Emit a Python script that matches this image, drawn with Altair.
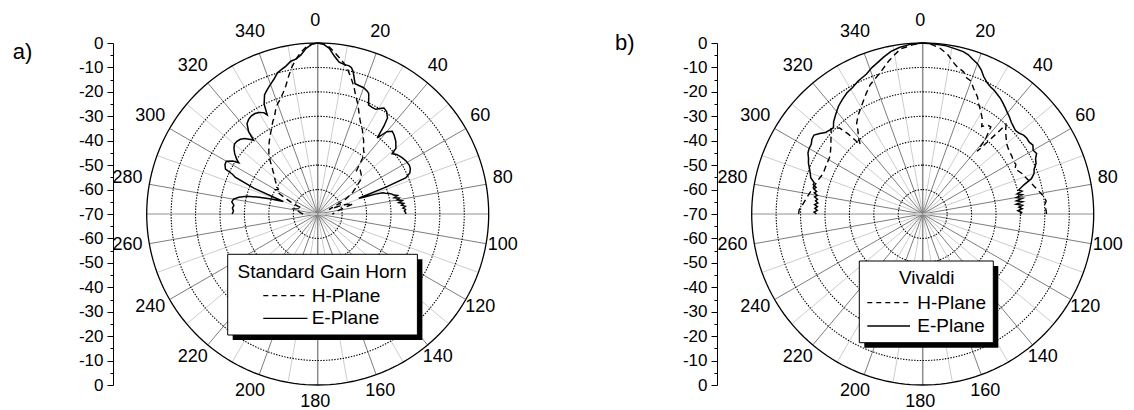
import altair as alt
import pandas as pd

# ---------------------------------------------------------------
# Measured far-field patterns: angle (deg, negative = 270..360) and
# normalised gain (dB).  Panel a) standard gain horn, panel b) Vivaldi.
# ---------------------------------------------------------------
HORN_E_ANG = [-90, -88, -86, -84, -82, -80, -78, -76, -74, -72,
              -70, -68, -66, -65, -64, -62, -60, -58, -57, -56,
              -54, -52, -50, -48, -46, -44, -42, -41, -40, -38,
              -36, -34, -32, -30, -28, -27, -26, -24, -22, -20,
              -18, -16, -14, -12, -10, -8, -6, -4, -2, 0,
              2, 4, 6, 8, 10, 12, 13, 14, 16, 18,
              20, 22, 23, 25, 27, 29, 31, 32, 34, 36,
              37, 38, 40, 42, 44, 47, 50, 51, 53, 56,
              59, 62, 64, 66, 67.7, 68.5, 69, 70, 71, 72,
              73, 74, 75, 76, 77, 78, 79, 80, 81, 82,
              83, 84, 85, 86, 87, 88, 89, 90]
HORN_E_DB = [-35, -35.5, -35, -35.5, -34.5, -35, -37, -40, -45, -50,
             -55, -42, -33, -31.5, -28, -27, -26.8, -29, -31.5, -30,
             -28, -26.5, -25.5, -25.5, -26, -27, -29, -30, -26, -23,
             -22, -21.5, -21.5, -22, -23, -24.5, -20, -16.5, -15, -13.5,
             -12, -10, -9, -8, -6.5, -6, -4.5, -2, -0.5, 0,
             -0.5, -2, -5, -7.2, -7.8, -8, -8.5, -10, -14.5, -14.8,
             -15, -15.8, -16.5, -20.7, -21, -21, -19.5, -18.8, -19.5, -21.4,
             -25, -30.4, -26, -24.4, -25, -26.3, -28.2, -30.8, -29.5, -28.5,
             -27.8, -27.5, -27.8, -28.7, -31.1, -40, -52, -50, -45, -42,
             -41, -39.5, -38.5, -38, -36.5, -38, -36, -37, -35, -36.5,
             -34.5, -35.5, -34, -35, -34, -34.5, -34, -34]

HORN_H_ANG = [-90, -86, -82, -78, -74, -70, -68, -66, -64, -62,
              -60, -58, -56, -54, -52, -50, -48, -46, -44, -42,
              -40, -38, -36, -34, -32, -30, -28, -26, -24, -22,
              -20, -18, -16, -14, -12, -10, -8, -6, -4, -2,
              0, 2, 4, 6, 8, 10, 12, 14, 16, 18,
              20, 22, 24, 26, 28, 30, 32, 34, 36, 38,
              40, 42, 44, 46, 48, 50, 52, 54, 56, 58,
              60, 62, 64, 66, 68, 70, 72, 74, 78, 82,
              86, 90]
HORN_H_DB = [-64, -63, -62, -60, -62, -63, -61, -58, -55, -52,
             -50, -51, -50, -49, -48, -47, -46, -44.5, -43, -41,
             -39, -37.5, -36, -34.5, -33, -31.5, -30, -28, -26.5, -24,
             -22, -20.5, -18.5, -16, -12.5, -9, -6, -3.5, -1.5, -0.3,
             0, -0.3, -1.5, -3.5, -5.5, -7.5, -10, -13, -16, -19.5,
             -22, -25, -27.5, -29.5, -31, -33, -34.5, -36.5, -38, -39,
             -43, -46.5, -45, -45.5, -46, -46.5, -48, -50, -51.5, -53,
             -55, -57, -60, -63, -65, -60, -57, -55, -60, -62,
             -63, -64]

VIV_E_ANG = [-90, -89, -88, -87, -86, -85, -84, -83, -82, -81,
             -80, -79, -78, -77, -76, -75, -74, -72, -70, -68,
             -66, -64, -62, -60, -58, -56, -54, -52, -50, -48,
             -46, -44, -41, -38, -35, -32, -29, -26, -22, -19,
             -16, -14, -11, -8, -4, 0, 4, 8, 12, 14,
             16, 18, 20, 22, 24, 26, 28, 30, 32, 34,
             36, 38, 40, 42, 44, 46, 48, 50, 52, 54,
             56, 58, 60, 62, 64, 66, 68, 70, 72, 74,
             76, 77, 78, 79, 80, 81, 82, 83, 84, 85,
             86, 87, 88, 89, 90]
VIV_E_DB = [-26.5, -25.5, -26.8, -25.8, -26.8, -25.6, -26.8, -25.8, -26.5, -25.2,
            -26.2, -24.8, -25.6, -24.2, -25, -23.6, -23.8, -21.8, -21, -20,
            -18.8, -18, -16.8, -16.3, -16.2, -15.3, -15, -16.5, -18.1, -18.7,
            -19.2, -17.5, -15.8, -14, -12.7, -11.5, -10.8, -9.5, -8.3, -6.5,
            -5, -3.8, -2.2, -1.2, -0.3, 0, -0.2, -0.5, -1.2, -1.5,
            -2.2, -3.5, -4.5, -6.2, -8.5, -10, -11, -11.5, -12.3, -13,
            -14, -15, -16, -16.8, -17.8, -18.4, -18.9, -18.5, -17.6, -17.3,
            -17.4, -16.8, -17.8, -17.2, -18.6, -19.2, -20.8, -21.5, -23.2, -27,
            -29.5, -28.3, -30.5, -28.5, -31, -28.6, -31.2, -28.8, -31.5, -29,
            -30.5, -29.2, -31, -29.5, -30]

VIV_H_ANG = [-90, -88, -86, -83, -80, -76, -72, -68, -64, -60,
             -58, -54, -50, -47, -44, -43, -42, -40, -38, -36,
             -33, -30, -28, -25, -22, -20, -16.5, -12.7, -10, -7.6,
             -3, 0, 3, 6, 9, 11, 13, 16, 18, 20,
             22, 25, 27, 29, 30, 32, 34, 36, 38, 40,
             41, 42, 43, 45, 48, 51, 54, 57, 60, 62,
             64, 66, 68, 70, 73, 76, 79, 82, 84, 86,
             88, 90]
VIV_H_DB = [-19.2, -19.4, -20.5, -21.7, -22.8, -24, -25, -26, -25.8, -25.5,
            -25.3, -23.5, -21, -18.7, -21, -25, -31.8, -29, -27, -24,
            -21.6, -19.5, -18, -15.4, -12.8, -11.7, -9.4, -6, -3.8, -1.8,
            -0.5, 0, -0.5, -1.8, -4, -6.3, -8, -9.4, -11.5, -12.1,
            -14.5, -17, -19.5, -21.3, -22.2, -24, -26.8, -25, -24.7, -30,
            -36, -30, -20, -22, -24, -25.5, -26.2, -26.5, -27, -26.8,
            -28, -27, -26, -25.5, -24.2, -23, -21.5, -19.8, -19.2, -20,
            -19.5, -19.3]

PANELS = ["a", "b"]
PANEL_LABELS = ["a)", "b)"]
LEGEND_TITLES = ["Standard Gain Horn", "Vivaldi"]
SERIES = ["H-Plane", "E-Plane"]
RING_DB = [-60, -50, -40, -30, -20, -10]
ANGLE_TICKS = list(range(0, 360, 20))
SPOKE_ANGLES = list(range(0, 360, 10))
AXIS_VALUES = list(range(-70, 71, 5))

# ---------------------------------------------------------------
# Layout: one plot area spanning the page; 1 dB = PX pixels.
# ---------------------------------------------------------------
W, H_PLOT = 1134, 342
PAD_TOP, PAD_BOTTOM = 43, 25
PX = H_PLOT / 140.0
CENTER_PX = {"a": 317.7, "b": 922.7}
SHIFT = (CENTER_PX["b"] - CENTER_PX["a"]) / PX
FONT = "Liberation Sans"


def u(p):
    return p / PX


R_LABEL = u(190.5)
LABEL_NUDGE = u(2.5)   # angle labels sit slightly up and to the left

SHIFT_EXPR = f"(datum.panel == 'b' ? {SHIFT} : 0)"

XS = alt.Scale(domain=[-u(CENTER_PX["a"]), u(W - CENTER_PX["a"])], nice=False, zero=False)
YS = alt.Scale(domain=[-70, 70], nice=False, zero=False)


def X(f):
    return alt.X(f, type="quantitative", scale=XS, axis=None)


def Y(f):
    return alt.Y(f, type="quantitative", scale=YS, axis=None)


# ---- pattern curves ----
def curve(panel, series, angs, dbs):
    return pd.DataFrame({"panel": panel, "series": series,
                         "i": list(range(len(angs))), "ang": angs, "db": dbs})


curves = pd.concat([
    curve("a", "E", HORN_E_ANG, HORN_E_DB),
    curve("a", "H", HORN_H_ANG, HORN_H_DB),
    curve("b", "E", VIV_E_ANG, VIV_E_DB),
    curve("b", "H", VIV_H_ANG, VIV_H_DB),
], ignore_index=True)

curve_base = alt.Chart(curves).transform_calculate(
    px=f"(datum.db + 70) * sin(datum.ang * PI / 180) + {SHIFT_EXPR}",
    py="(datum.db + 70) * cos(datum.ang * PI / 180)",
).encode(x=X("px"), y=Y("py"), detail="panel:N", order=alt.Order("i:Q"))

e_lines = curve_base.transform_filter("datum.series == 'E'").mark_line(
    color="black", strokeWidth=1.5)
h_lines = curve_base.transform_filter("datum.series == 'H'").mark_line(
    color="black", strokeWidth=1.4, strokeDash=[6, 4])

# ---- polar grid: spokes ----
spokes = pd.DataFrame([(p, a) for p in PANELS for a in SPOKE_ANGLES], columns=["panel", "ang"])
spoke_base = alt.Chart(spokes).transform_calculate(
    x0=SHIFT_EXPR,
    y0="0",
    x1=f"70 * sin(datum.ang * PI / 180) + {SHIFT_EXPR}",
    y1="70 * cos(datum.ang * PI / 180)",
    kind="datum.ang % 180 == 0 ? 'vert' : (datum.ang % 90 == 0 ? 'horz' : "
         "(datum.ang % 20 == 0 ? 'major' : 'minor'))",
).encode(x=X("x0"), y=Y("y0"), x2="x1:Q", y2="y1:Q")

spoke_minor = spoke_base.transform_filter("datum.kind == 'minor'").mark_rule(
    color="#c6c6c6", strokeWidth=0.9)
spoke_major = spoke_base.transform_filter("datum.kind == 'major'").mark_rule(
    color="#6e6e6e", strokeWidth=0.9)
spoke_horz = spoke_base.transform_filter("datum.kind == 'horz'").mark_rule(
    color="#c8c8c8", strokeWidth=2)
spoke_vert = spoke_base.transform_filter("datum.kind == 'vert'").mark_rule(
    color="#8c8c8c", strokeWidth=1.5)

# ---- polar grid: rings ----
ring_rows = [(p, d, a) for p in PANELS for d in RING_DB + [0] for a in range(0, 361, 2)]
rings = pd.DataFrame(ring_rows, columns=["panel", "ring", "ang"])
ring_base = alt.Chart(rings).transform_calculate(
    px=f"(datum.ring + 70) * sin(datum.ang * PI / 180) + {SHIFT_EXPR}",
    py="(datum.ring + 70) * cos(datum.ang * PI / 180)",
    key="datum.panel + '_' + datum.ring",
).encode(x=X("px"), y=Y("py"), detail="key:N", order=alt.Order("ang:Q"))

ring_dotted = ring_base.transform_filter("datum.ring < 0").mark_line(
    color="black", strokeWidth=1.1, strokeDash=[1.4, 1.4])
ring_outer = ring_base.transform_filter("datum.ring == 0").mark_line(
    color="black", strokeWidth=1.3)

# ---- angle labels ----
alabels = pd.DataFrame([(p, a) for p in PANELS for a in ANGLE_TICKS], columns=["panel", "ang"])
angle_text = alt.Chart(alabels).transform_calculate(
    lx=f"{R_LABEL} * sin(datum.ang * PI / 180) + {SHIFT_EXPR} - {LABEL_NUDGE}",
    ly=f"{R_LABEL} * cos(datum.ang * PI / 180) + {LABEL_NUDGE}",
    txt="'' + datum.ang",
).mark_text(font=FONT, fontSize=18, color="black", align="center", baseline="middle").encode(
    x=X("lx"), y=Y("ly"), text="txt:N")

# ---- legends (pixel offsets relative to each panel centre, y downward) ----
LEGEND_PX = {
    "a": dict(box=(-90.0, 99.7, 40.3, 121.0), title=(4.3, 57.7),
              h=(-6.0, 81.7), e=(-6.0, 104.3), sample=(-54.4, -10.2)),
    "b": dict(box=(-63.4, 70.6, 47.0, 128.7), title=(4.0, 64.3),
              h=(-5.4, 88.7), e=(-5.4, 112.0), sample=(-55.4, -12.7)),
}
SHADOW_PX = 5

box_rows, title_rows, item_rows = [], [], []
for p, title in zip(PANELS, LEGEND_TITLES):
    L = LEGEND_PX[p]
    sh = SHIFT if p == "b" else 0
    x1, x2, y1, y2 = L["box"]
    box_rows.append(dict(panel=p, x1=sh + u(x1), x2=sh + u(x2), y1=-u(y1), y2=-u(y2),
                         sx1=sh + u(x1 + SHADOW_PX), sx2=sh + u(x2 + SHADOW_PX),
                         sy1=-u(y1 + SHADOW_PX), sy2=-u(y2 + SHADOW_PX)))
    title_rows.append(dict(panel=p, tx=sh + u(L["title"][0]), ty=-u(L["title"][1]), txt=title))
    for s, key in zip(SERIES, ["h", "e"]):
        item_rows.append(dict(panel=p, series=s, tx=sh + u(L[key][0]), ty=-u(L[key][1]),
                              sx1=sh + u(L["sample"][0]), sx2=sh + u(L["sample"][1])))

boxes = pd.DataFrame(box_rows)
titles = pd.DataFrame(title_rows)
items = pd.DataFrame(item_rows)

legend_shadow = alt.Chart(boxes).mark_rect(color="black").encode(
    x=X("sx1"), x2="sx2:Q", y=Y("sy1"), y2="sy2:Q")
legend_box = alt.Chart(boxes).mark_rect(fill="white", stroke="black", strokeWidth=1).encode(
    x=X("x1"), x2="x2:Q", y=Y("y1"), y2="y2:Q")
legend_title = alt.Chart(titles).mark_text(
    font=FONT, fontSize=19, color="black", align="center", baseline="middle").encode(
    x=X("tx"), y=Y("ty"), text="txt:N")
legend_item_text = alt.Chart(items).mark_text(
    font=FONT, fontSize=19, color="black", align="left", baseline="middle").encode(
    x=X("tx"), y=Y("ty"), text="series:N")
legend_sample_h = alt.Chart(items).transform_filter("datum.series == 'H-Plane'").mark_rule(
    color="black", strokeWidth=1.3, strokeDash=[5, 4]).encode(
    x=X("sx1"), x2="sx2:Q", y=Y("ty"))
legend_sample_e = alt.Chart(items).transform_filter("datum.series == 'E-Plane'").mark_rule(
    color="black", strokeWidth=1.3).encode(
    x=X("sx1"), x2="sx2:Q", y=Y("ty"))

# ---- panel letters ----
PANEL_LABEL_PX = {"a": (-295.2, -162.3), "b": (-298.0, -171.0)}
plabels = pd.DataFrame([
    dict(panel=p, lab=lab,
         lx=(SHIFT if p == "b" else 0) + u(PANEL_LABEL_PX[p][0]),
         ly=-u(PANEL_LABEL_PX[p][1]))
    for p, lab in zip(PANELS, PANEL_LABELS)
])
panel_text = alt.Chart(plabels).mark_text(
    font=FONT, fontSize=22, color="black", align="center", baseline="middle").encode(
    x=X("lx"), y=Y("ly"), text="lab:N")

drawing = alt.layer(
    spoke_minor, spoke_major, spoke_horz, spoke_vert,
    ring_dotted, ring_outer,
    h_lines, e_lines,
    legend_shadow, legend_box, legend_title, legend_item_text,
    legend_sample_h, legend_sample_e,
    angle_text, panel_text,
)

# ---- radial dB axes on the left of each panel ----
axis_df = pd.DataFrame({"v": AXIS_VALUES})
LABEL_EXPR = ("abs(datum.value) % 10 != 0 ? '' : "
              "(abs(datum.value) == 70 ? '0' : '' + (abs(datum.value) - 70))")


def radial_axis(x_px):
    return alt.Chart(axis_df).mark_tick(opacity=0).encode(
        y=alt.Y("v:Q", scale=YS, axis=alt.Axis(
            orient="left", offset=-x_px, values=AXIS_VALUES, labelExpr=LABEL_EXPR,
            tickSize={"condition": {"test": "abs(datum.value) % 10 == 0", "value": 6}, "value": 3},
            grid=False, title=None, domainColor="black", domainWidth=1,
            tickColor="black", tickWidth=1, labelColor="black", labelFont=FONT,
            labelFontSize=17, labelPadding=4, labelBound=False, labelOverlap=False,
            labelFlush=False)))


chart = alt.layer(drawing, radial_axis(113), radial_axis(717)).resolve_scale(
    y="independent"
).properties(
    width=W, height=H_PLOT,
    autosize=alt.AutoSizeParams(type="none"),
    padding={"left": 0, "right": 0, "top": PAD_TOP, "bottom": PAD_BOTTOM},
).configure_view(strokeWidth=0)

chart.save("out.html", embed_options={"renderer": "svg", "actions": False})
